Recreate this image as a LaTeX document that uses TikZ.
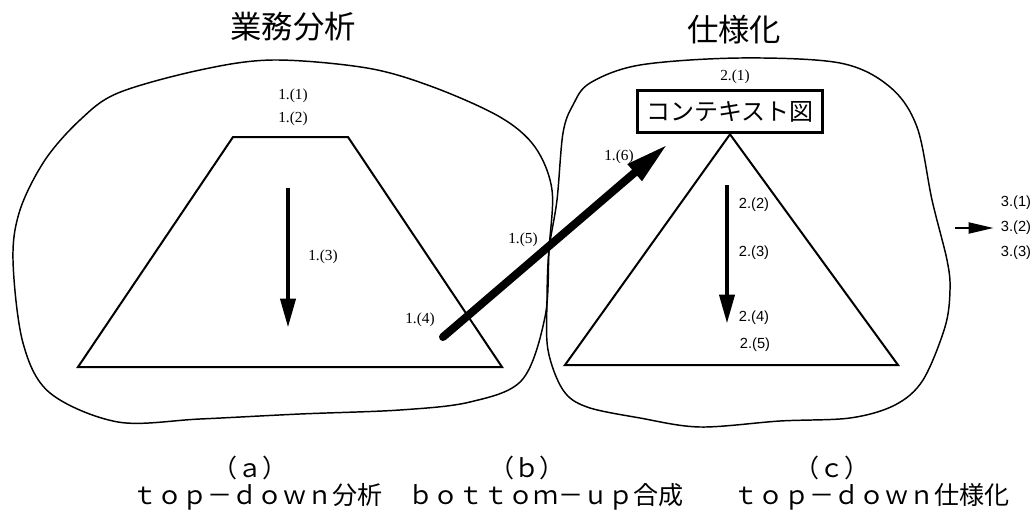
\documentclass[tikz,border=0pt]{standalone}
\usepackage{fontspec}
\newfontfamily\jp{Noto Sans CJK JP}
\newfontfamily\lserif{Liberation Serif}
\newfontfamily\lsans{Liberation Sans}
\usetikzlibrary{arrows.meta}
\begin{document}
\begin{tikzpicture}[x=0.75pt,y=-0.75pt,
  blob/.style={line width=1.1pt, line join=round},
  outline/.style={line width=1.5pt, line join=miter},
  lab/.style={font=\lserif\fontsize{11.5}{13}\selectfont, inner sep=0},
  labs/.style={font=\lsans\fontsize{11}{13}\selectfont, inner sep=0},
  ttl/.style={font=\jp\fontsize{23.5}{28}\selectfont, inner sep=0},
  capt/.style={font=\jp\fontsize{18.8}{22}\selectfont, inner sep=0},
  downarrow/.style={line width=3.6pt, -{Triangle[length=22pt,width=11pt]}},
  bigarrow/.style={line width=6pt, line cap=round, -{Triangle[length=33pt,width=15pt]}},
  smallarrow/.style={line width=2.2pt, -{Triangle[length=19pt,width=8pt]}},
]
\useasboundingbox (0,0) rectangle (1036,514);

% titles
\node[ttl] (t1) at (293,27) {業務分析};
\node[ttl] (t2) at (734,30) {仕様化};

% left blob
\draw[blob] plot[smooth cycle, tension=0.55] coordinates {
  (273,60) (367,68) (433,87) (500,117) (535,147) (552,190) (549,250)
  (545,317) (522,380) (470,402) (400,410) (300,414) (200,419) (118,422)
  (50,393) (23,343) (13,260) (20,210) (45,160) (80,120) (118,93) (200,70)};

% right blob
\draw[blob] plot[smooth cycle, tension=0.55] coordinates {
  (590,83) (640,65) (740,58) (840,63) (890,87) (917,127) (932,200)
  (947,260) (950,290) (945,327) (923,380) (895,405) (850,418) (780,421)
  (700,427) (640,418) (587,407) (563,390) (548,350) (547,300) (549,250)
  (557,200) (563,133) (573,105)};

% left trapezoid
\draw[outline] (233,137) -- (348,137) -- (502,367) -- (78,367) -- cycle;

% context box and right triangle
\node[draw, line width=2.2pt, minimum width=139pt, minimum height=32pt, inner sep=0,
      font=\jp\fontsize{18}{22}\selectfont] (box) at (730,111.5) {コンテキスト図};
\draw[outline] (box.south) -- (898,365) -- (565,365) -- cycle;

% labels
\node[lab] (l11) at (293,96) {1.(1)};
\node[lab] (l12) at (293,119) {1.(2)};
\node[lab] (l13) at (323,257) {1.(3)};
\node[lab] (l14) at (420,320) {1.(4)};
\node[lab] (l15) at (523,240) {1.(5)};
\node[lab] (l16) at (619,157) {1.(6)};
\node[lab] (l21) at (735,77) {2.(1)};
\node[labs] (l22) at (754,205) {2.(2)};
\node[labs] (l23) at (754,253) {2.(3)};
\node[labs] (l24) at (754,318) {2.(4)};
\node[labs] (l25) at (755,345) {2.(5)};
\node[labs] (l31) at (1016,203) {3.(1)};
\node[labs] (l32) at (1016,228) {3.(2)};
\node[labs] (l33) at (1016,253) {3.(3)};

% arrows
\coordinate (a1s) at (288,188);
\coordinate (a1e) at (288,328);
\draw[downarrow] (a1s) -- (a1e);

\coordinate (a2s) at (727,185);
\coordinate (a2e) at (727,324);
\draw[downarrow] (a2s) -- (a2e);

\coordinate (bs) at (443,337);
\coordinate (be) at (668,144);
\draw[bigarrow] (bs) -- (be);

\coordinate (rs) at (955,228);
\coordinate (re) at (994,228);
\draw[smallarrow] (rs) -- (re);

% captions
\node[capt] (ca) at (250,468) {（ａ）};
\node[capt] (cb) at (527,468) {（ｂ）};
\node[capt] (cc) at (832,468) {（ｃ）};
\node[capt] (bt) at (571,497) {ｔｏｐ－ｄｏｗｎ分析　ｂｏｔｔｏｍ－ｕｐ合成　　ｔｏｐ－ｄｏｗｎ仕様化};
\end{tikzpicture}
\end{document}
